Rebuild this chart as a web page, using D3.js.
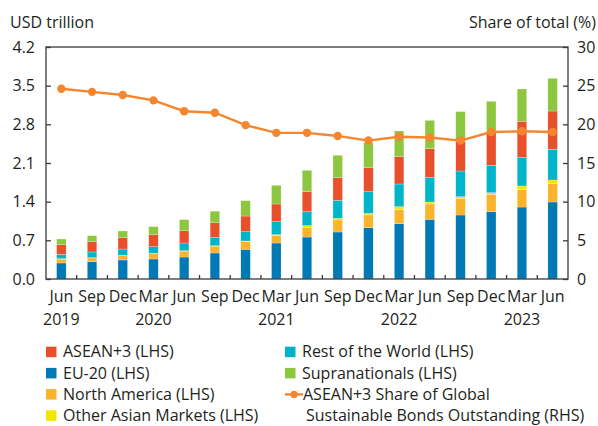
<!DOCTYPE html>
<html>
<head>
<meta charset="utf-8">
<script src="https://cdn.jsdelivr.net/npm/d3@7"></script>
<style>
body { margin: 0; background: #fff; }
text { font-family: "Open Sans", sans-serif; fill: #231f20; }
</style>
</head>
<body>
<script>
// quarters on the x axis
var periods = ["Jun 2019","Sep 2019","Dec 2019","Mar 2020","Jun 2020","Sep 2020","Dec 2020",
               "Mar 2021","Jun 2021","Sep 2021","Dec 2021","Mar 2022","Jun 2022","Sep 2022",
               "Dec 2022","Mar 2023","Jun 2023"]

// USD trillion (bottom to top)
var eu20      = [0.290,0.314,0.344,0.362,0.398,0.471,0.537,0.652,0.760,0.851,0.929,1.002,1.080,1.159,1.219,1.303,1.394]
var northAm   = [0.070,0.066,0.079,0.096,0.107,0.124,0.141,0.138,0.176,0.217,0.230,0.259,0.278,0.295,0.314,0.321,0.331]
var otherAsia = [0.007,0.006,0.006,0.007,0.007,0.008,0.010,0.013,0.030,0.030,0.030,0.048,0.036,0.036,0.029,0.060,0.067]
var restWorld = [0.080,0.103,0.114,0.120,0.140,0.152,0.169,0.235,0.253,0.326,0.392,0.411,0.447,0.465,0.496,0.519,0.556]
var asean3    = [0.173,0.187,0.205,0.217,0.222,0.262,0.283,0.320,0.362,0.410,0.434,0.495,0.518,0.535,0.622,0.652,0.693]
var supra     = [0.104,0.108,0.121,0.145,0.200,0.211,0.278,0.338,0.387,0.405,0.453,0.464,0.513,0.540,0.537,0.585,0.592]

// ASEAN+3 share of global sustainable bonds outstanding (%)
var share = [24.6,24.2,23.8,23.1,21.7,21.5,19.9,18.9,18.9,18.5,17.9,18.4,18.3,17.9,19.0,19.1,19.0]

var leftTicks = [0, 0.7, 1.4, 2.1, 2.8, 3.5, 4.2]
var rightTicks = [0, 5, 10, 15, 20, 25, 30]

var series = [
  {key: "eu20", name: "EU-20 (LHS)", color: "#0079b5", values: eu20},
  {key: "northAm", name: "North America (LHS)", color: "#fbb32b", values: northAm},
  {key: "otherAsia", name: "Other Asian Markets (LHS)", color: "#f2e500", values: otherAsia},
  {key: "restWorld", name: "Rest of the World (LHS)", color: "#00b5c9", values: restWorld},
  {key: "asean3", name: "ASEAN+3 (LHS)", color: "#e8502b", values: asean3},
  {key: "supra", name: "Supranationals (LHS)", color: "#8dc63f", values: supra}
]
var lineColor = "#f5862e"

var screen = {width: 598, height: 426}
var margins = {top: 47, bottom: 147, left: 46, right: 30}

var table = periods.map(function(p, i) {
  var row = {period: p}
  series.forEach(function(s) { row[s.key] = s.values[i] })
  return row
})

var svg = d3.select("body").append("svg")
  .attr("width", screen.width)
  .attr("height", screen.height)

var xScale = d3.scaleBand()
  .domain(periods)
  .range([margins.left, screen.width - margins.right])
  .paddingInner(0.69)
  .paddingOuter(0.345)

var yScale = d3.scaleLinear()
  .domain([0, 4.2])
  .range([screen.height - margins.bottom, margins.top])

var y2Scale = d3.scaleLinear()
  .domain([0, 30])
  .range([screen.height - margins.bottom, margins.top])

var bottom = screen.height - margins.bottom
var right = screen.width - margins.right

// stacked bars
var stack = d3.stack().keys(series.map(function(s) { return s.key }))
var layers = stack(table)

svg.append("g").attr("id", "bars")
  .selectAll("g")
  .data(layers)
  .enter()
  .append("g")
  .attr("fill", function(d, i) { return series[i].color })
  .selectAll("rect")
  .data(function(d) { return d })
  .enter()
  .append("rect")
  .attr("x", function(d) { return xScale(d.data.period) })
  .attr("width", xScale.bandwidth())
  .attr("y", function(d) { return yScale(d[1]) })
  .attr("height", function(d) { return yScale(d[0]) - yScale(d[1]) })
  .attr("stroke", "#fff")
  .attr("stroke-width", 0.4)
  .attr("stroke-opacity", 0.6)

// frame
svg.append("rect")
  .attr("x", margins.left)
  .attr("y", margins.top)
  .attr("width", right - margins.left)
  .attr("height", bottom - margins.top)
  .attr("fill", "none")
  .attr("stroke", "#3a3a3a")
  .attr("stroke-width", 1.3)

// left axis
var yAxis = d3.axisLeft(yScale)
  .tickValues(leftTicks)
  .tickFormat(d3.format(".1f"))
  .tickSize(-5)
  .tickPadding(11)

svg.append("g")
  .attr("id", "yAxis")
  .attr("transform", "translate(" + margins.left + ",0)")
  .call(yAxis)

// right axis
var y2Axis = d3.axisRight(y2Scale)
  .tickValues(rightTicks)
  .tickSize(-5)
  .tickPadding(9)

svg.append("g")
  .attr("id", "y2Axis")
  .attr("transform", "translate(" + right + ",0)")
  .call(y2Axis)

// bottom axis: month names
var xAxis = d3.axisBottom(xScale)
  .tickSize(0)
  .tickPadding(11.6)
  .tickFormat(function(d) { return d.split(" ")[0] })

svg.append("g")
  .attr("id", "xAxis")
  .attr("transform", "translate(0," + bottom + ")")
  .call(xAxis)

svg.selectAll("#yAxis, #y2Axis, #xAxis").select(".domain").remove()
svg.selectAll("#yAxis, #y2Axis, #xAxis").selectAll("text")
  .attr("font-size", 16)
  .style("font-family", "'Open Sans', sans-serif")
  .attr("fill", "#231f20")
svg.selectAll("#yAxis line, #y2Axis line").attr("stroke", "#3a3a3a").attr("stroke-width", 1.3)

// small ticks between the quarters
var step = xScale.step()
svg.append("g")
  .selectAll("line")
  .data(periods.slice(1))
  .enter()
  .append("line")
  .attr("x1", function(d) { return xScale(d) + xScale.bandwidth() / 2 - step / 2 })
  .attr("x2", function(d) { return xScale(d) + xScale.bandwidth() / 2 - step / 2 })
  .attr("y1", bottom)
  .attr("y2", bottom - 4)
  .attr("stroke", "#3a3a3a")
  .attr("stroke-width", 1.3)

// year row under first quarter and each March
svg.append("g")
  .selectAll("text")
  .data(periods.filter(function(p, i) { return i == 0 || p.indexOf("Mar") == 0 }))
  .enter()
  .append("text")
  .attr("x", function(d) { return xScale(d) + xScale.bandwidth() / 2 })
  .attr("y", 324.5)
  .attr("text-anchor", "middle")
  .attr("font-size", 16)
  .text(function(d) { return d.split(" ")[1] })

// share line
var line = d3.line()
  .x(function(d, i) { return xScale(periods[i]) + xScale.bandwidth() / 2 })
  .y(function(d) { return y2Scale(d) })

svg.append("path")
  .datum(share)
  .attr("d", line)
  .attr("fill", "none")
  .attr("stroke", lineColor)
  .attr("stroke-width", 2.4)

svg.append("g")
  .selectAll("circle")
  .data(share)
  .enter()
  .append("circle")
  .attr("cx", function(d, i) { return xScale(periods[i]) + xScale.bandwidth() / 2 })
  .attr("cy", function(d) { return y2Scale(d) })
  .attr("r", 4.2)
  .attr("fill", lineColor)

// axis titles
svg.append("text")
  .attr("x", 10)
  .attr("y", 28)
  .attr("font-size", 16)
  .text("USD trillion")

svg.append("text")
  .attr("x", 596)
  .attr("y", 28)
  .attr("text-anchor", "end")
  .attr("font-size", 16)
  .text("Share of total (%)")

// legend
var legendLeft = ["asean3", "eu20", "northAm", "otherAsia"]
var legendRight = ["restWorld", "supra"]
var rowY = function(i) { return 352 + i * 21.2 }
var byKey = {}
series.forEach(function(s) { byKey[s.key] = s })

var drawSwatch = function(key, x, i)
{
  var s = byKey[key]
  svg.append("rect")
    .attr("x", x)
    .attr("y", rowY(i) - 5.3)
    .attr("width", 10.5)
    .attr("height", 10.5)
    .attr("fill", s.color)
  svg.append("text")
    .attr("x", x + 17)
    .attr("y", rowY(i) + 5.4)
    .attr("font-size", 16)
    .text(s.name)
}
legendLeft.forEach(function(k, i) { drawSwatch(k, 46, i) })
legendRight.forEach(function(k, i) { drawSwatch(k, 285, i) })

svg.append("line")
  .attr("x1", 285).attr("x2", 303)
  .attr("y1", rowY(2)).attr("y2", rowY(2))
  .attr("stroke", lineColor)
  .attr("stroke-width", 2.4)
svg.append("circle")
  .attr("cx", 294).attr("cy", rowY(2))
  .attr("r", 3.6)
  .attr("fill", lineColor)
svg.append("text")
  .attr("x", 303)
  .attr("y", rowY(2) + 5.4)
  .attr("font-size", 16)
  .text("ASEAN+3 Share of Global")
svg.append("text")
  .attr("x", 306)
  .attr("y", rowY(3) + 5.4)
  .attr("font-size", 16)
  .text("Sustainable Bonds Outstanding (RHS)")
</script>
</body>
</html>
